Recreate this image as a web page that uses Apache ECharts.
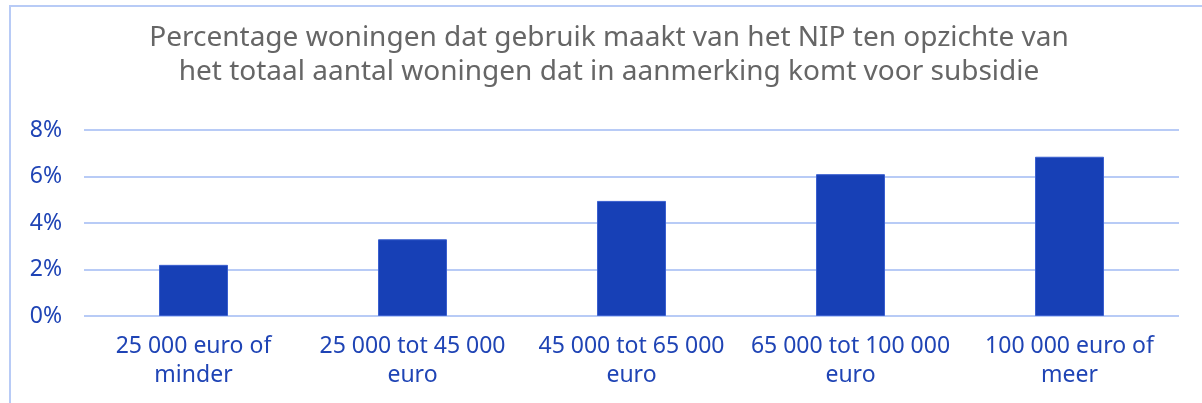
<!DOCTYPE html>
<html>
<head>
  <meta charset="utf-8">
  <title>NIP woningen</title>
  <script src="https://cdn.jsdelivr.net/npm/echarts@6/dist/echarts.min.js"></script>
  <style>
    html, body { margin: 0; padding: 0; background: #fff; }
    #chart { width: 1202px; height: 403px; }
  </style>
</head>
<body>
  <div id="chart"></div>
  <script>
    // data
    var categories = [
      '25 000 euro of\nminder',
      '25 000 tot 45 000\neuro',
      '45 000 tot 65 000\neuro',
      '65 000 tot 100 000\neuro',
      '100 000 euro of\nmeer'
    ];
    var values = [2.2, 3.3, 4.95, 6.1, 6.85]; // percent
    var titleText = 'Percentage woningen dat gebruik maakt van het NIP ten opzichte van\nhet totaal aantal woningen dat in aanmerking komt voor subsidie';

    var blue = '#1740b6';
    var lightBlue = '#b8cbf6';
    var labelBlue = '#1f44b5';

    var chart = echarts.init(document.getElementById('chart'));
    chart.setOption({
      animation: false,
      title: {
        text: titleText,
        left: 604,
        textAlign: 'center',
        top: 16,
        textStyle: {
          fontFamily: 'Noto Sans',
          fontWeight: 'normal',
          fontSize: 28,
          lineHeight: 34,
          color: '#666666'
        }
      },
      graphic: [{
        type: 'rect',
        shape: { x: 10, y: 6, width: 1300, height: 500 },
        style: { fill: 'none', stroke: lightBlue, lineWidth: 2 },
        silent: true
      }],
      grid: { left: 84, right: 23, top: 130, bottom: 87 },
      xAxis: {
        type: 'category',
        data: categories,
        axisLine: { show: false },
        axisTick: { show: false },
        axisLabel: {
          fontFamily: 'Noto Sans',
          fontSize: 23,
          lineHeight: 29,
          color: labelBlue,
          margin: 16,
          interval: 0
        }
      },
      yAxis: {
        type: 'value',
        min: 0,
        max: 8,
        interval: 2,
        axisLine: { show: false },
        axisTick: { show: false },
        axisLabel: {
          formatter: '{value}%',
          fontFamily: 'Noto Sans',
          fontSize: 23,
          color: labelBlue,
          margin: 22
        },
        splitLine: { lineStyle: { color: lightBlue, width: 2 } }
      },
      series: [{
        type: 'bar',
        data: values,
        barWidth: '31.5%',
        itemStyle: { color: blue, borderColor: '#3a5fcf', borderWidth: 1 }
      }]
    });
  </script>
</body>
</html>
